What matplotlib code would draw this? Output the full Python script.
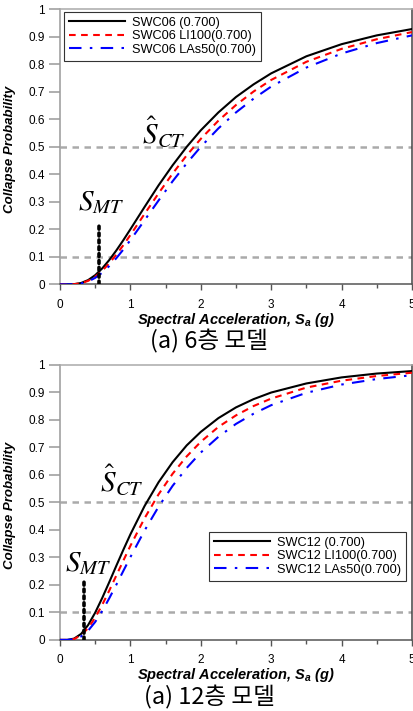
import matplotlib
matplotlib.use("Agg")
import matplotlib.pyplot as plt

plt.rcParams["font.family"] = ["Liberation Sans", "DejaVu Sans"]
plt.rcParams["mathtext.it"] = "Liberation Sans:bold:italic"
plt.rcParams["mathtext.rm"] = "Liberation Sans:bold"

# 스펙트럴 가속도 (g)
sa = [0.0, 0.1, 0.2, 0.3, 0.4, 0.5, 0.6, 0.7, 0.8, 0.9, 1.0, 1.2, 1.4, 1.6,
      1.8, 2.0, 2.25, 2.5, 2.75, 3.0, 3.5, 4.0, 4.5, 5.0]

# 6층 모델 붕괴확률
swc06 = [0.0, 0.0, 0.0009, 0.0052, 0.0158, 0.0336, 0.0583, 0.0887, 0.1234,
         0.161, 0.2005, 0.281, 0.360, 0.433, 0.500, 0.560, 0.625, 0.681,
         0.727, 0.767, 0.829, 0.873, 0.905, 0.928]
swc06_li100 = [0.0, 0.0, 0.0007, 0.0042, 0.0130, 0.0283, 0.0498, 0.0768,
               0.1083, 0.1428, 0.1796, 0.2557, 0.331, 0.403, 0.469, 0.529,
               0.595, 0.652, 0.701, 0.743, 0.809, 0.856, 0.891, 0.917]
swc06_las50 = [0.0, 0.0, 0.0005, 0.0034, 0.0108, 0.0238, 0.0427, 0.0668,
               0.0953, 0.1269, 0.161, 0.2327, 0.305, 0.375, 0.440, 0.500,
               0.567, 0.625, 0.675, 0.719, 0.788, 0.839, 0.877, 0.905]

# 12층 모델 붕괴확률
swc12 = [0.0, 0.0, 0.0047, 0.0219, 0.0543, 0.0993, 0.1526, 0.2103, 0.2695,
         0.3277, 0.3837, 0.486, 0.573, 0.646, 0.707, 0.756, 0.806, 0.845,
         0.875, 0.899, 0.932, 0.954, 0.968, 0.977]
swc12_li100 = [0.0, 0.0, 0.0034, 0.0167, 0.0431, 0.0811, 0.1278, 0.1796,
               0.234, 0.2884, 0.342, 0.4416, 0.529, 0.604, 0.667, 0.720,
               0.774, 0.816, 0.850, 0.877, 0.917, 0.942, 0.959, 0.971]
swc12_las50 = [0.0, 0.0, 0.0024, 0.0125, 0.0336, 0.0654, 0.1055, 0.1515,
               0.2005, 0.251, 0.301, 0.397, 0.484, 0.560, 0.625, 0.681,
               0.738, 0.785, 0.822, 0.853, 0.898, 0.928, 0.948, 0.962]

labels06 = ["SWC06 (0.700)", "SWC06 LI100(0.700)", "SWC06 LAs50(0.700)"]
labels12 = ["SWC12 (0.700)", "SWC12 LI100(0.700)", "SWC12 LAs50(0.700)"]

smt06 = 0.55
smt12 = 0.34

y_ticks = [0, 0.1, 0.2, 0.3, 0.4, 0.5, 0.6, 0.7, 0.8, 0.9, 1]
y_ticklabels = ["0", "0.1", "0.2", "0.3", "0.4", "0.5", "0.6", "0.7", "0.8", "0.9", "1"]
x_ticks = [0, 1, 2, 3, 4, 5]


def draw_panel(ax, curves, labels, smt, smt_xy, sct_xy, legend_xy):
    # 기준선 (0.1, 0.5)
    for yy in (0.1, 0.5):
        ax.axhline(yy, color="#aaaaaa", lw=1.8, dashes=(2.6, 2.2), zorder=1)

    styles = [
        dict(color="black", lw=1.5, ls="-"),
        dict(color="red", lw=1.5, dashes=(3.2, 2.6)),
        dict(color="blue", lw=1.5, dashes=(6.0, 4.0, 1.2, 4.0)),
    ]
    for y, lab, st in zip(curves, labels, styles):
        ax.plot(sa, y, label=lab, zorder=3, **st)

    ax.plot([smt, smt], [0, 0.215], color="black", lw=2.6,
            ls=(0, (0.8, 1.1)), dash_capstyle="round", zorder=4)

    ax.text(smt_xy[0], smt_xy[1], r"$S_{MT}$", fontsize=21,
            math_fontfamily="stix", ha="left", va="baseline")
    ax.text(sct_xy[0], sct_xy[1], r"$\hat{S}_{CT}$", fontsize=21,
            math_fontfamily="stix", ha="left", va="baseline")

    ax.set_xlim(0, 5)
    ax.set_ylim(0, 1)
    ax.set_xticks(x_ticks)
    ax.set_xticks([0.5, 1.5, 2.5, 3.5, 4.5], minor=True)
    ax.set_yticks(y_ticks)
    ax.set_yticklabels(y_ticklabels)

    ax.tick_params(axis="y", direction="out", length=8, width=1.1,
                   color="#999999", labelsize=8.5, pad=3)
    ax.tick_params(axis="x", which="major", direction="out", length=4.5,
                   width=1.0, color="#555555", labelsize=8.5, pad=6)
    ax.tick_params(axis="x", which="minor", direction="out", length=3,
                   width=1.0, color="#555555")

    ax.spines["left"].set_color("#999999")
    ax.spines["top"].set_color("#aaaaaa")
    ax.spines["bottom"].set_color("#555555")
    ax.spines["right"].set_color("#444444")
    for s in ax.spines.values():
        s.set_linewidth(1.1)

    ax.set_ylabel("Collapse Probability", fontsize=9.5, fontweight="bold",
                  style="italic")
    ax.yaxis.set_label_coords(-0.125, 0.49)
    ax.set_xlabel(r"Spectral Acceleration, $S_{a}$ (g)", fontsize=10.5,
                  fontweight="bold", style="italic", math_fontfamily="custom")
    ax.xaxis.set_label_coords(0.5, -0.096)

    leg = ax.legend(loc="upper left", bbox_to_anchor=legend_xy,
                    borderaxespad=0, fontsize=9.2, handlelength=4.4,
                    handletextpad=0.5, labelspacing=0.12, borderpad=0.4,
                    fancybox=False, framealpha=1)
    leg.get_frame().set_edgecolor("#333333")
    leg.get_frame().set_linewidth(0.8)


fig = plt.figure(figsize=(4.14, 7.11), dpi=100)
ax1 = fig.add_axes([0.145, 0.600, 0.850, 0.387])
ax2 = fig.add_axes([0.145, 0.100, 0.850, 0.387])

draw_panel(ax1, [swc06, swc06_li100, swc06_las50], labels06, smt06,
           (0.25, 0.27), (1.16, 0.515), (0.011, 0.991))
draw_panel(ax2, [swc12, swc12_li100, swc12_las50], labels12, smt12,
           (0.07, 0.25), (0.57, 0.54), (0.423, 0.393))

fig.text(0.505, 1 - 341 / 711, "(a) 6층 모델", fontsize=17, ha="center",
         va="center", family=["Noto Sans CJK KR", "DejaVu Sans"])
fig.text(0.505, 1 - 697 / 711, "(a) 12층 모델", fontsize=17, ha="center",
         va="center", family=["Noto Sans CJK KR", "DejaVu Sans"])

plt.savefig("out.png", dpi=100)
